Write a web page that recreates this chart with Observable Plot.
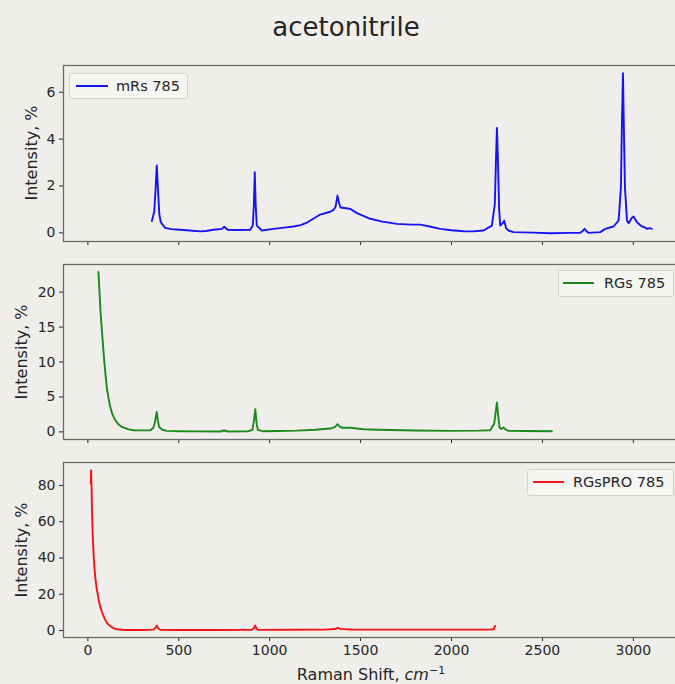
<!DOCTYPE html>
<html><head><meta charset="utf-8">
<script src="https://cdn.jsdelivr.net/npm/d3@7"></script>
<script src="https://cdn.jsdelivr.net/npm/@observablehq/plot@0.6"></script>
<style>
html,body{margin:0;padding:0;background:#efeeea;overflow:hidden;width:675px;height:684px}
#root{position:relative;width:675px;height:684px;overflow:hidden;font-family:"DejaVu Sans",sans-serif;color:#262626}
.panel{position:absolute;left:0}
.title{position:absolute;left:246px;width:200px;top:10px;text-align:center;font-size:26px;line-height:34px}
.xlabel{position:absolute;left:221px;width:300px;top:661px;text-align:center;font-size:16px;line-height:20px}
.ylabel{position:absolute;width:0;height:0}
.ylabel span{position:absolute;left:0;top:0;transform:translate(-50%,-50%) rotate(-90deg);font-size:16px;line-height:20px;white-space:nowrap}
.legend{position:absolute;border:1px solid #d2d2ce;border-radius:3px;background:rgba(246,246,243,0.8);box-sizing:border-box;font-size:14.5px;line-height:24px;white-space:nowrap}
.legend .sw{position:absolute;top:11px;height:0;border-top:2px solid}
.legend .lt{position:absolute;top:0}
</style></head>
<body><div id="root">
<div class="title">acetonitrile</div>
<div class="xlabel">Raman Shift, <i>cm</i><sup style="font-size:11px">−1</sup></div>
</div>
<script>
// ---- data ----
const xTicks = [0, 500, 1000, 1500, 2000, 2500, 3000];
const yLabel = "Intensity, %";

const mrsName = "mRs 785";
const mrsX = [352,365,372,379,386,393,401,425,460,508,560,618,650,691,737,750,768,820,893,907,913,918,923,929,957,1021,1080,1131,1170,1205,1240,1278,1333,1351,1362,1373,1382,1390,1420,1443,1480,1553,1620,1700,1780,1828,1880,1938,2000,2066,2120,2176,2222,2238,2245,2250,2255,2262,2268,2280,2290,2300,2313,2341,2450,2543,2650,2708,2722,2732,2742,2754,2818,2846,2891,2919,2932,2937,2943,2948,2954,2965,2974,2990,3001,3020,3047,3060,3075,3090,3102];
const mrsY = [0.50,0.90,1.80,2.87,1.80,0.80,0.45,0.21,0.16,0.13,0.10,0.06,0.08,0.13,0.17,0.26,0.13,0.12,0.13,0.31,1.20,2.59,1.20,0.31,0.10,0.17,0.22,0.27,0.33,0.44,0.60,0.78,0.90,0.98,1.10,1.59,1.25,1.08,1.05,1.02,0.84,0.60,0.48,0.38,0.35,0.35,0.27,0.17,0.11,0.07,0.06,0.10,0.31,1.20,3.20,4.47,3.20,1.00,0.31,0.40,0.52,0.20,0.10,0.03,0.01,-0.02,0.00,0.00,0.08,0.17,0.07,0.00,0.03,0.17,0.27,0.52,1.95,4.50,6.81,4.50,1.95,0.52,0.41,0.62,0.70,0.45,0.27,0.25,0.17,0.20,0.17];
const mrsTicks = [0, 2, 4, 6];

const rgsName = "RGs 785";
const rgsX = [58,62,66,70,77,84,90,97,104,113,123,135,150,168,187,220,251,300,343,360,367,373,379,385,392,410,434,500,600,728,750,770,880,905,913,921,928,935,960,1050,1150,1250,1333,1360,1373,1385,1397,1443,1516,1600,1800,1993,2150,2213,2235,2244,2250,2256,2264,2275,2286,2300,2313,2400,2552];
const rgsY = [22.9,21.0,19.0,17.0,14.6,12.2,10.2,8.2,6.4,4.9,3.6,2.5,1.7,1.1,0.71,0.40,0.24,0.22,0.24,0.60,1.20,2.00,2.86,1.60,0.71,0.30,0.14,0.10,0.08,0.05,0.20,0.05,0.08,0.30,1.50,3.24,1.20,0.30,0.10,0.12,0.18,0.30,0.48,0.70,1.10,0.75,0.60,0.60,0.38,0.30,0.20,0.14,0.18,0.24,1.20,3.00,4.20,2.50,0.60,0.40,0.62,0.30,0.14,0.12,0.10];
const rgsTicks = [0, 5, 10, 15, 20];

const proName = "RGsPRO 785";
const proX = [16,18,20,23,27,31,36,42,48,53,60,68,77,86,95,104,114,126,141,160,185,214,300,361,372,379,386,398,500,700,900,913,920,927,935,1100,1300,1360,1375,1390,1450,1700,2000,2200,2232,2240];
const proY = [81,88.4,80,65,52,43,35,28,23.5,20.6,16.5,13.2,10.5,8.1,6.0,4.4,3.2,2.2,1.3,0.7,0.4,0.3,0.3,0.5,1.5,2.75,1.3,0.4,0.3,0.3,0.35,1.3,2.8,1.2,0.35,0.4,0.5,0.8,1.5,0.9,0.6,0.5,0.5,0.5,0.7,2.5];
const proTicks = [0, 20, 40, 60, 80];

// ---- drawing ----
const root = document.getElementById("root");
const xDomain = [-134, 3254];

function panel({xs, ys, color, ydomain, yticks, top, height, marginBottom, showX, label, name, legend}) {
  const data = xs.map((x, i) => ({x, y: ys[i]}));
  const chart = Plot.plot({
    width: 680,
    height,
    marginLeft: 63,
    marginRight: 1,
    marginTop: 10,
    marginBottom,
    style: {background: "transparent", fontFamily: "DejaVu Sans", fontSize: "14px", color: "#262626", maxWidth: "none", overflow: "visible"},
    x: {domain: xDomain, ticks: xTicks, tickSize: 4, tickPadding: 4, label: null,
        tickFormat: showX ? (d => String(d)) : (() => "")},
    y: {domain: ydomain, ticks: yticks, tickSize: 4, tickPadding: 4, label: null,
        tickFormat: d => String(d)},
    marks: [
      Plot.frame({stroke: "#6a6a6a", strokeWidth: 1.3}),
      Plot.line(data, {x: "x", y: "y", stroke: color, strokeWidth: 1.9, strokeLinejoin: "round"})
    ]
  });
  const wrap = document.createElement("div");
  wrap.className = "panel";
  wrap.style.top = top + "px";
  wrap.appendChild(chart);
  root.appendChild(wrap);

  const yl = document.createElement("div");
  yl.className = "ylabel";
  yl.style.left = label.x + "px";
  yl.style.top = (top + 10 + (height - 10 - marginBottom) / 2) + "px";
  const ys_ = document.createElement("span");
  ys_.textContent = yLabel;
  yl.appendChild(ys_);
  root.appendChild(yl);

  const lg = document.createElement("div");
  lg.className = "legend";
  lg.style.left = legend.left + "px";
  lg.style.top = legend.top + "px";
  lg.style.width = legend.width + "px";
  lg.style.height = legend.height + "px";
  const sw = document.createElement("div");
  sw.className = "sw";
  sw.style.left = legend.swLeft + "px";
  sw.style.width = legend.swWidth + "px";
  sw.style.borderTopColor = color;
  const lt = document.createElement("div");
  lt.className = "lt";
  lt.style.left = legend.textLeft + "px";
  lt.textContent = name;
  lg.appendChild(sw);
  lg.appendChild(lt);
  root.appendChild(lg);
}

panel({xs: mrsX, ys: mrsY, color: "#1414f5", ydomain: [-0.37, 7.14], yticks: mrsTicks,
  top: 55, height: 206, marginBottom: 20, showX: false, label: {x: 32}, name: mrsName,
  legend: {left: 69, top: 73, width: 119, height: 26, swLeft: 6, swWidth: 32, textLeft: 46}});
panel({xs: rgsX, ys: rgsY, color: "#1a8a1a", ydomain: [-1.09, 23.96], yticks: rgsTicks,
  top: 254, height: 205, marginBottom: 20, showX: false, label: {x: 22}, name: rgsName,
  legend: {left: 558, top: 270, width: 116, height: 27, swLeft: 4, swWidth: 31, textLeft: 45}});
panel({xs: proX, ys: proY, color: "#f51414", ydomain: [-3.85, 92.65], yticks: proTicks,
  top: 452, height: 215, marginBottom: 30, showX: true, label: {x: 22}, name: proName,
  legend: {left: 527, top: 469, width: 147, height: 27, swLeft: 5, swWidth: 31, textLeft: 45}});
</script>
</body></html>
